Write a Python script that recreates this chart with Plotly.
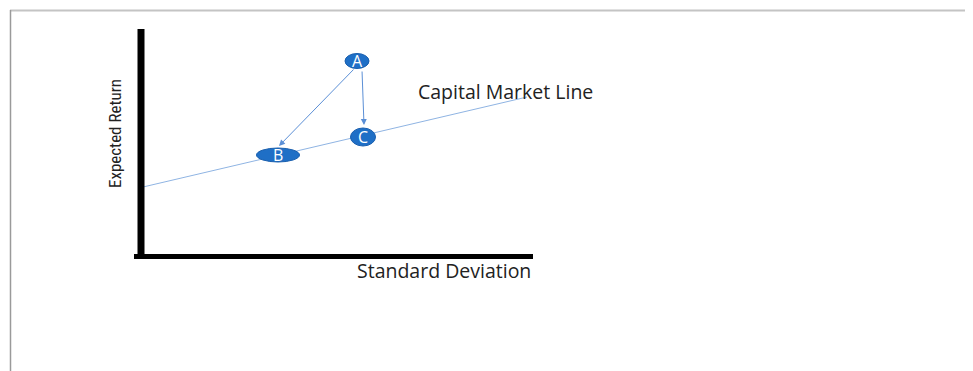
import plotly.graph_objects as go

# Diagram data (units: arbitrary risk / return units, origin at the axes corner)
node_labels = ["A", "B", "C"]
node_std = [215, 136, 221]
node_ret = [196, 102, 120]
node_w = [24, 43, 25]
node_h = [15, 14, 18]

cml_std = [1, 385]
cml_ret = [70, 160]

y_axis_std = [-1, -1]
y_axis_ret = [228, -2]
x_axis_std = [-8, 391]
x_axis_ret = [0.5, 0.5]

# arrows from A to B and from A to C
arrow_from_std = [213, 220]
arrow_from_ret = [189, 187]
arrow_to_std = [137, 222]
arrow_to_ret = [111, 132]

OFF = 8  # page body margin

fig = go.Figure()

fig.add_trace(go.Scatter(x=cml_std, y=cml_ret, mode="lines",
                         line=dict(color="#8fb4e3", width=1), hoverinfo="skip"))
fig.add_trace(go.Scatter(x=y_axis_std, y=y_axis_ret, mode="lines",
                         line=dict(color="black", width=7), hoverinfo="skip"))
fig.add_trace(go.Scatter(x=x_axis_std, y=x_axis_ret, mode="lines",
                         line=dict(color="black", width=5), hoverinfo="skip"))

shapes = []
for lab, sx, ry, w, h in zip(node_labels, node_std, node_ret, node_w, node_h):
    shapes.append(dict(type="circle", xref="x", yref="y",
                       x0=sx - w / 2, x1=sx + w / 2, y0=ry - h / 2, y1=ry + h / 2,
                       fillcolor="#1f6fc6", line=dict(color="#1a5fae", width=1),
                       layer="above"))

# frame lines
shapes.append(dict(type="line", xref="paper", yref="paper",
                   x0=(10 - OFF) / 973, x1=1, y0=1 - (10.5 - OFF) / 371, y1=1 - (10.5 - OFF) / 371,
                   line=dict(color="#c4c4c4", width=2)))
shapes.append(dict(type="line", xref="paper", yref="paper",
                   x0=(10.5 - OFF) / 973, x1=(10.5 - OFF) / 973, y0=0, y1=1 - (10 - OFF) / 371,
                   line=dict(color="#9a9a9a", width=1.5)))

annotations = []
for lab, sx, ry in zip(node_labels, node_std, node_ret):
    annotations.append(dict(x=sx, y=ry, xref="x", yref="y", text=lab, showarrow=False,
                            font=dict(family="Open Sans", size=16, color="white")))

for fx, fy, tx, ty in zip(arrow_from_std, arrow_from_ret, arrow_to_std, arrow_to_ret):
    annotations.append(dict(x=tx, y=ty, ax=fx, ay=fy, xref="x", yref="y",
                            axref="x", ayref="y", text="", showarrow=True,
                            arrowhead=2, arrowsize=1.2, arrowwidth=1,
                            arrowcolor="#5b8fd6"))

annotations.append(dict(x=274, y=166, xref="x", yref="y", text="Capital Market Line",
                        showarrow=False, xanchor="left", yanchor="middle",
                        font=dict(family="Open Sans", size=19.5, color="#222")))
annotations.append(dict(x=391, y=-13, xref="x", yref="y", text="Standard Deviation",
                        showarrow=False, xanchor="right", yanchor="middle",
                        font=dict(family="Open Sans", size=19.5, color="#222")))
annotations.append(dict(x=-27, y=123, xref="x", yref="y", text="Expected Return",
                        showarrow=False, textangle=-90, xanchor="center", yanchor="middle",
                        font=dict(family="Liberation Sans Narrow, Roboto Condensed, Roboto", size=17, color="#222")))

fig.update_layout(
    width=973, height=371,
    margin=dict(l=0, r=0, t=0, b=0),
    paper_bgcolor="white", plot_bgcolor="white",
    showlegend=False,
    shapes=shapes, annotations=annotations,
    xaxis=dict(range=[-142 + OFF, 831 + OFF], visible=False, fixedrange=True),
    yaxis=dict(range=[-114 - OFF, 257 - OFF], visible=False, fixedrange=True),
)

fig.write_html("out.html")
